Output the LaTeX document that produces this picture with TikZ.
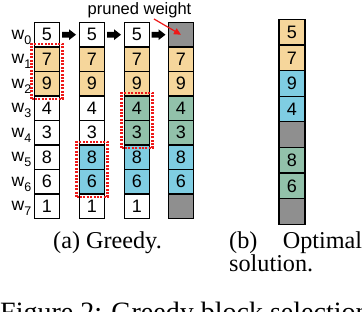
\documentclass[tikz,border=0pt]{standalone}
\usepackage{fontspec}
\setmainfont{Liberation Serif}
\setsansfont{Liberation Sans}
\usetikzlibrary{fit,arrows.meta}
\definecolor{tanc}{RGB}{246,214,155}
\definecolor{greenc}{RGB}{146,193,170}
\definecolor{bluec}{RGB}{127,205,226}
\definecolor{grayc}{RGB}{143,143,143}
\definecolor{redc}{RGB}{238,24,24}
\begin{document}
\begin{tikzpicture}[x=1pt,y=-1pt,
  cell/.style={draw=black, line width=1.2pt, minimum width=25pt, minimum height=24.5pt,
    inner sep=0pt, outer sep=0pt, anchor=north west, font=\sffamily\fontsize{18}{18}\selectfont},
  ocell/.style={cell, minimum width=26pt, minimum height=25.7pt},
  wlab/.style={anchor=base west, inner sep=0pt, font=\sffamily\fontsize{17.5}{17.5}\selectfont},
  sel/.style={draw=redc, line width=2.2pt, dash pattern=on 2pt off 1.4pt, inner sep=3pt},
  blockarrow/.style={fill=black},
  captext/.style={anchor=base west, inner sep=0pt, font=\fontsize{24.2}{24.2}\selectfont},
]
\useasboundingbox (0,0) rectangle (362,312);
\clip (0,0) rectangle (362,312);
% column 1
\foreach \v/\f [count=\i from 0] in {5/white,7/tanc,9/tanc,4/white,3/white,8/white,6/white,1/white}
  \node[cell,fill=\f] (a\i) at (34.5,{22.5+\i*24.5}) {\v};
% column 2
\foreach \v/\f [count=\i from 0] in {5/white,7/tanc,9/tanc,4/white,3/white,8/bluec,6/bluec,1/white}
  \node[cell,fill=\f] (b\i) at (79.5,{22.5+\i*24.5}) {\v};
% column 3
\foreach \v/\f [count=\i from 0] in {5/white,7/tanc,9/tanc,4/greenc,3/greenc,8/bluec,6/bluec,1/white}
  \node[cell,fill=\f] (c\i) at (124.5,{22.5+\i*24.5}) {\v};
% column 4
\foreach \v/\f [count=\i from 0] in {/grayc,7/tanc,9/tanc,4/greenc,3/greenc,8/bluec,6/bluec,/grayc}
  \node[cell,fill=\f] (d\i) at (168.5,{22.5+\i*24.5}) {\v};
% optimal column
\foreach \v/\f [count=\i from 0] in {5/tanc,7/tanc,9/bluec,4/bluec,/grayc,8/greenc,6/greenc,/grayc}
  \node[ocell,fill=\f] (e\i) at (279,{19.5+\i*25.6}) {\v};
% row labels
\foreach \i in {0,...,7}
  \node[wlab] (w\i) at (11.5,{39.5+\i*24.5}) {w\raisebox{-5pt}{\fontsize{12.5}{12.5}\selectfont\i}};
% selections
\node[sel, fit=(a1)(a2)] (s1) {};
\node[sel, fit=(b5)(b6)] (s2) {};
\node[sel, fit=(c3)(c4)] (s3) {};
% block arrows
\foreach \n/\x in {ar1/69, ar2/114, ar3/158.5} {
  \coordinate (\n) at (\x,34.7);
  \fill[blockarrow, shift={(\n)}] (-7,-2.9) -- (0,-2.9) -- (0,-5.4) -- (7,0) -- (0,5.4) -- (0,2.9) -- (-7,2.9) -- cycle;
}
% pruned weight label
\node[anchor=base, inner sep=0pt, font=\sffamily\fontsize{16.5}{16.5}\selectfont] (pw) at (139.5,14.5) {pruned weight};
\coordinate (pwfoot) at (154,19);
\draw[redc, line width=1.2pt, -{Triangle[length=7pt,width=6.5pt]}] (pwfoot) -- (d0.center);
% captions
\node[captext] (capa) at (53,249) {(a) Greedy.};
\node[captext] (capb) at (229,249) {\makebox[133pt][l]{(b)\hfill Optimal}};
\node[captext] (capb2) at (229,272) {solution.};
\node[anchor=base west, inner sep=0pt, font=\fontsize{28}{28}\selectfont] (fig) at (0,321.5) {Figure 2: Greedy block selection};
\end{tikzpicture}
\end{document}
